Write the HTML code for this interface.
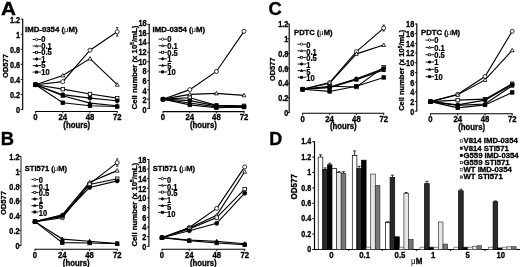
<!DOCTYPE html>
<html><head><meta charset="utf-8"><title>Figure</title>
<style>
html,body{margin:0;padding:0;background:#fff;}
body{width:520px;height:267px;overflow:hidden;}
svg{display:block;}
text{font-family:"Liberation Sans", Arial, Helvetica, sans-serif;font-weight:bold;fill:#000;stroke:#000;stroke-width:0.32px;}
.t{font-size:8.3px;}
.tl{font-size:8.6px;stroke-width:0.25px;}
.tx{font-size:8.6px;}
.th{font-size:8.2px;}
.ty{font-size:8.3px;}
.tt{font-size:7.8px;}
.mu{font-weight:normal;stroke:none;}
.big{font-size:18.5px;stroke-width:0.35px;}
</style></head>
<body>
<svg width="520" height="267" viewBox="0 0 520 267">
<defs><filter id="soft" x="0" y="0" width="520" height="267" filterUnits="userSpaceOnUse"><feGaussianBlur stdDeviation="0.32"/></filter></defs>
<rect width="520" height="267" fill="#fff"/>
<g filter="url(#soft)">
<path d="M22.7 18.8 V109.9" fill="none" stroke="#000" stroke-width="1.15"/>
<line x1="20.7" x2="22.7" y1="109.5" y2="109.5" stroke="#000" stroke-width="0.9"/>
<text transform="translate(20.1,112.9) scale(0.88,1)" class="ty" text-anchor="end">0</text>
<line x1="20.7" x2="22.7" y1="94.45" y2="94.45" stroke="#000" stroke-width="0.9"/>
<text transform="translate(20.1,97.85) scale(0.88,1)" class="ty" text-anchor="end">0.2</text>
<line x1="20.7" x2="22.7" y1="79.4" y2="79.4" stroke="#000" stroke-width="0.9"/>
<text transform="translate(20.1,82.8) scale(0.88,1)" class="ty" text-anchor="end">0.4</text>
<line x1="20.7" x2="22.7" y1="64.35" y2="64.35" stroke="#000" stroke-width="0.9"/>
<text transform="translate(20.1,67.75) scale(0.88,1)" class="ty" text-anchor="end">0.6</text>
<line x1="20.7" x2="22.7" y1="49.3" y2="49.3" stroke="#000" stroke-width="0.9"/>
<text transform="translate(20.1,52.7) scale(0.88,1)" class="ty" text-anchor="end">0.8</text>
<line x1="20.7" x2="22.7" y1="34.25" y2="34.25" stroke="#000" stroke-width="0.9"/>
<text transform="translate(20.1,37.65) scale(0.88,1)" class="ty" text-anchor="end">1</text>
<line x1="20.7" x2="22.7" y1="19.2" y2="19.2" stroke="#000" stroke-width="0.9"/>
<text transform="translate(20.1,22.6) scale(0.88,1)" class="ty" text-anchor="end">1.2</text>
<path d="M35.1 111.5 H117.7" fill="none" stroke="#000" stroke-width="1.1"/>
<line x1="35.5" x2="35.5" y1="111.5" y2="113.3" stroke="#000" stroke-width="0.9"/>
<text transform="translate(35.5,120.2) scale(0.9,1)" class="tx" text-anchor="middle">0</text>
<line x1="62.8" x2="62.8" y1="111.5" y2="113.3" stroke="#000" stroke-width="0.9"/>
<text transform="translate(62.8,120.2) scale(0.9,1)" class="tx" text-anchor="middle">24</text>
<line x1="90" x2="90" y1="111.5" y2="113.3" stroke="#000" stroke-width="0.9"/>
<text transform="translate(90,120.2) scale(0.9,1)" class="tx" text-anchor="middle">48</text>
<line x1="117.2" x2="117.2" y1="111.5" y2="113.3" stroke="#000" stroke-width="0.9"/>
<text transform="translate(117.2,120.2) scale(0.9,1)" class="tx" text-anchor="middle">72</text>
<text transform="translate(76.7,127.6) scale(0.95,1)" class="th" text-anchor="middle">(hours)</text>
<text transform="translate(7.6,66) rotate(-90) scale(0.97,1)" class="t" text-anchor="middle" style="font-size:7.75px">OD577</text>
<polyline points="35.5,84.7 62.8,81.63 90,50.2 117.2,31.8" fill="none" stroke="#000" stroke-width="1.15"/>
<polyline points="35.5,84.7 62.8,75.5 90,58.63 117.2,84.7" fill="none" stroke="#000" stroke-width="1.15"/>
<polyline points="35.5,84.7 62.8,89.15 90,94.05 117.2,98.12" fill="none" stroke="#000" stroke-width="1.15"/>
<polyline points="35.5,84.7 62.8,94.67 90,98.12 117.2,100.8" fill="none" stroke="#000" stroke-width="1.15"/>
<polyline points="35.5,84.7 62.8,95.82 90,103.1 117.2,105.78" fill="none" stroke="#000" stroke-width="1.15"/>
<polyline points="35.5,84.7 62.8,102.72 90,105.78 117.2,106.55" fill="none" stroke="#000" stroke-width="1.15"/>
<path d="M117.2 36.02 V27.58 M116 27.58 h2.4 M116 36.02 h2.4" stroke="#000" stroke-width="0.8" fill="none"/>
<circle cx="35.5" cy="84.7" r="2" fill="#fff" stroke="#000" stroke-width="0.8"/>
<circle cx="62.8" cy="81.63" r="2" fill="#fff" stroke="#000" stroke-width="0.8"/>
<circle cx="90" cy="50.2" r="2" fill="#fff" stroke="#000" stroke-width="0.8"/>
<circle cx="117.2" cy="31.8" r="2" fill="#fff" stroke="#000" stroke-width="0.8"/>
<polygon points="35.5,82.65 33.55,86.18 37.45,86.18" fill="#fff" stroke="#000" stroke-width="0.8"/>
<polygon points="62.8,73.45 60.85,76.98 64.75,76.98" fill="#fff" stroke="#000" stroke-width="0.8"/>
<polygon points="90,56.58 88.05,60.11 91.95,60.11" fill="#fff" stroke="#000" stroke-width="0.8"/>
<polygon points="117.2,82.65 115.25,86.18 119.15,86.18" fill="#fff" stroke="#000" stroke-width="0.8"/>
<rect x="33.75" y="82.95" width="3.5" height="3.5" fill="#fff" stroke="#000" stroke-width="0.8"/>
<rect x="61.05" y="87.4" width="3.5" height="3.5" fill="#fff" stroke="#000" stroke-width="0.8"/>
<rect x="88.25" y="92.3" width="3.5" height="3.5" fill="#fff" stroke="#000" stroke-width="0.8"/>
<rect x="115.45" y="96.37" width="3.5" height="3.5" fill="#fff" stroke="#000" stroke-width="0.8"/>
<circle cx="35.5" cy="84.7" r="2" fill="#000" stroke="#000" stroke-width="0.8"/>
<circle cx="62.8" cy="94.67" r="2" fill="#000" stroke="#000" stroke-width="0.8"/>
<circle cx="90" cy="98.12" r="2" fill="#000" stroke="#000" stroke-width="0.8"/>
<circle cx="117.2" cy="100.8" r="2" fill="#000" stroke="#000" stroke-width="0.8"/>
<polygon points="35.5,82.65 33.55,86.18 37.45,86.18" fill="#000" stroke="#000" stroke-width="0.8"/>
<polygon points="62.8,93.77 60.85,97.29 64.75,97.29" fill="#000" stroke="#000" stroke-width="0.8"/>
<polygon points="90,101.05 88.05,104.58 91.95,104.58" fill="#000" stroke="#000" stroke-width="0.8"/>
<polygon points="117.2,103.73 115.25,107.26 119.15,107.26" fill="#000" stroke="#000" stroke-width="0.8"/>
<rect x="33.75" y="82.95" width="3.5" height="3.5" fill="#000" stroke="#000" stroke-width="0.8"/>
<rect x="61.05" y="100.97" width="3.5" height="3.5" fill="#000" stroke="#000" stroke-width="0.8"/>
<rect x="88.25" y="104.03" width="3.5" height="3.5" fill="#000" stroke="#000" stroke-width="0.8"/>
<rect x="115.45" y="104.8" width="3.5" height="3.5" fill="#000" stroke="#000" stroke-width="0.8"/>
<text transform="translate(25,31.8)" class="tt" style="font-size:7.8px">IMD-0354 (<tspan class="mu">μ</tspan>M)</text>
<line x1="32.6" x2="41.1" y1="39.5" y2="39.5" stroke="#000" stroke-width="0.9"/>
<circle cx="36.65" cy="39.5" r="1.2" fill="#fff" stroke="#000" stroke-width="0.7"/>
<text transform="translate(41.3,42.4) scale(0.88,1)" class="tl">0</text>
<line x1="32.6" x2="41.1" y1="46.02" y2="46.02" stroke="#000" stroke-width="0.9"/>
<polygon points="36.65,44.79 35.48,46.91 37.82,46.91" fill="#fff" stroke="#000" stroke-width="0.7"/>
<text transform="translate(41.3,48.92) scale(0.88,1)" class="tl">0.1</text>
<line x1="32.6" x2="41.1" y1="52.54" y2="52.54" stroke="#000" stroke-width="0.9"/>
<rect x="35.6" y="51.49" width="2.1" height="2.1" fill="#fff" stroke="#000" stroke-width="0.7"/>
<text transform="translate(41.3,55.44) scale(0.88,1)" class="tl">0.5</text>
<line x1="32.6" x2="41.1" y1="59.06" y2="59.06" stroke="#000" stroke-width="0.9"/>
<circle cx="36.65" cy="59.06" r="1.2" fill="#000" stroke="#000" stroke-width="0.7"/>
<text transform="translate(41.3,61.96) scale(0.88,1)" class="tl">1</text>
<line x1="32.6" x2="41.1" y1="65.58" y2="65.58" stroke="#000" stroke-width="0.9"/>
<polygon points="36.65,64.35 35.48,66.47 37.82,66.47" fill="#000" stroke="#000" stroke-width="0.7"/>
<text transform="translate(41.3,68.48) scale(0.88,1)" class="tl">5</text>
<line x1="32.6" x2="41.1" y1="72.1" y2="72.1" stroke="#000" stroke-width="0.9"/>
<rect x="35.6" y="71.05" width="2.1" height="2.1" fill="#000" stroke="#000" stroke-width="0.7"/>
<text transform="translate(41.3,75) scale(0.88,1)" class="tl">10</text>
<path d="M149.2 23.9 V108.9" fill="none" stroke="#000" stroke-width="1.15"/>
<line x1="147.2" x2="149.2" y1="108.5" y2="108.5" stroke="#000" stroke-width="0.9"/>
<text transform="translate(146.6,112.8) scale(0.88,1)" class="ty" text-anchor="end">0</text>
<line x1="147.2" x2="149.2" y1="99.14" y2="99.14" stroke="#000" stroke-width="0.9"/>
<text transform="translate(146.6,103.18) scale(0.88,1)" class="ty" text-anchor="end">2</text>
<line x1="147.2" x2="149.2" y1="89.79" y2="89.79" stroke="#000" stroke-width="0.9"/>
<text transform="translate(146.6,93.56) scale(0.88,1)" class="ty" text-anchor="end">4</text>
<line x1="147.2" x2="149.2" y1="80.43" y2="80.43" stroke="#000" stroke-width="0.9"/>
<text transform="translate(146.6,83.93) scale(0.88,1)" class="ty" text-anchor="end">6</text>
<line x1="147.2" x2="149.2" y1="71.08" y2="71.08" stroke="#000" stroke-width="0.9"/>
<text transform="translate(146.6,74.31) scale(0.88,1)" class="ty" text-anchor="end">8</text>
<line x1="147.2" x2="149.2" y1="61.72" y2="61.72" stroke="#000" stroke-width="0.9"/>
<text transform="translate(146.6,64.69) scale(0.88,1)" class="ty" text-anchor="end">10</text>
<line x1="147.2" x2="149.2" y1="52.37" y2="52.37" stroke="#000" stroke-width="0.9"/>
<text transform="translate(146.6,55.07) scale(0.88,1)" class="ty" text-anchor="end">12</text>
<line x1="147.2" x2="149.2" y1="43.01" y2="43.01" stroke="#000" stroke-width="0.9"/>
<text transform="translate(146.6,45.44) scale(0.88,1)" class="ty" text-anchor="end">14</text>
<line x1="147.2" x2="149.2" y1="33.66" y2="33.66" stroke="#000" stroke-width="0.9"/>
<text transform="translate(146.6,35.82) scale(0.88,1)" class="ty" text-anchor="end">16</text>
<line x1="147.2" x2="149.2" y1="24.3" y2="24.3" stroke="#000" stroke-width="0.9"/>
<text transform="translate(146.6,26.2) scale(0.88,1)" class="ty" text-anchor="end">18</text>
<path d="M162.6 111.6 H244.5" fill="none" stroke="#000" stroke-width="1.1"/>
<line x1="163" x2="163" y1="111.6" y2="113.4" stroke="#000" stroke-width="0.9"/>
<text transform="translate(163,120.3) scale(0.9,1)" class="tx" text-anchor="middle">0</text>
<line x1="189.8" x2="189.8" y1="111.6" y2="113.4" stroke="#000" stroke-width="0.9"/>
<text transform="translate(189.8,120.3) scale(0.9,1)" class="tx" text-anchor="middle">24</text>
<line x1="216.4" x2="216.4" y1="111.6" y2="113.4" stroke="#000" stroke-width="0.9"/>
<text transform="translate(216.4,120.3) scale(0.9,1)" class="tx" text-anchor="middle">48</text>
<line x1="244" x2="244" y1="111.6" y2="113.4" stroke="#000" stroke-width="0.9"/>
<text transform="translate(244,120.3) scale(0.9,1)" class="tx" text-anchor="middle">72</text>
<text transform="translate(203.4,127.7) scale(0.95,1)" class="th" text-anchor="middle">(hours)</text>
<text transform="translate(136.5,67.6) rotate(-90) scale(0.97,1)" class="t" text-anchor="middle" style="font-size:8.0px">Cell number (x 10<tspan dy="-2.5" font-size="5">5</tspan><tspan dy="2.5">/mL)</tspan></text>
<polyline points="163,99.17 189.8,89.61 216.4,71.46 244,31.32" fill="none" stroke="#000" stroke-width="1.15"/>
<polyline points="163,99.17 189.8,94.39 216.4,93.43 244,95.34" fill="none" stroke="#000" stroke-width="1.15"/>
<polyline points="163,99.17 189.8,97.73 216.4,105.38 244,105.86" fill="none" stroke="#000" stroke-width="1.15"/>
<polyline points="163,99.17 189.8,100.6 216.4,105.86 244,106.81" fill="none" stroke="#000" stroke-width="1.15"/>
<polyline points="163,99.17 189.8,102.99 216.4,106.81 244,107.29" fill="none" stroke="#000" stroke-width="1.15"/>
<polyline points="163,99.17 189.8,104.9 216.4,107.77 244,106.81" fill="none" stroke="#000" stroke-width="1.15"/>
<circle cx="163" cy="99.17" r="2" fill="#fff" stroke="#000" stroke-width="0.8"/>
<circle cx="189.8" cy="89.61" r="2" fill="#fff" stroke="#000" stroke-width="0.8"/>
<circle cx="216.4" cy="71.46" r="2" fill="#fff" stroke="#000" stroke-width="0.8"/>
<circle cx="244" cy="31.32" r="2" fill="#fff" stroke="#000" stroke-width="0.8"/>
<polygon points="163,97.12 161.05,100.64 164.95,100.64" fill="#fff" stroke="#000" stroke-width="0.8"/>
<polygon points="189.8,92.34 187.85,95.86 191.75,95.86" fill="#fff" stroke="#000" stroke-width="0.8"/>
<polygon points="216.4,91.38 214.45,94.91 218.35,94.91" fill="#fff" stroke="#000" stroke-width="0.8"/>
<polygon points="244,93.29 242.05,96.82 245.95,96.82" fill="#fff" stroke="#000" stroke-width="0.8"/>
<rect x="161.25" y="97.42" width="3.5" height="3.5" fill="#fff" stroke="#000" stroke-width="0.8"/>
<rect x="188.05" y="95.98" width="3.5" height="3.5" fill="#fff" stroke="#000" stroke-width="0.8"/>
<rect x="214.65" y="103.63" width="3.5" height="3.5" fill="#fff" stroke="#000" stroke-width="0.8"/>
<rect x="242.25" y="104.11" width="3.5" height="3.5" fill="#fff" stroke="#000" stroke-width="0.8"/>
<circle cx="163" cy="99.17" r="2" fill="#000" stroke="#000" stroke-width="0.8"/>
<circle cx="189.8" cy="100.6" r="2" fill="#000" stroke="#000" stroke-width="0.8"/>
<circle cx="216.4" cy="105.86" r="2" fill="#000" stroke="#000" stroke-width="0.8"/>
<circle cx="244" cy="106.81" r="2" fill="#000" stroke="#000" stroke-width="0.8"/>
<polygon points="163,97.12 161.05,100.64 164.95,100.64" fill="#000" stroke="#000" stroke-width="0.8"/>
<polygon points="189.8,100.94 187.85,104.46 191.75,104.46" fill="#000" stroke="#000" stroke-width="0.8"/>
<polygon points="216.4,104.76 214.45,108.29 218.35,108.29" fill="#000" stroke="#000" stroke-width="0.8"/>
<polygon points="244,105.24 242.05,108.76 245.95,108.76" fill="#000" stroke="#000" stroke-width="0.8"/>
<rect x="161.25" y="97.42" width="3.5" height="3.5" fill="#000" stroke="#000" stroke-width="0.8"/>
<rect x="188.05" y="103.15" width="3.5" height="3.5" fill="#000" stroke="#000" stroke-width="0.8"/>
<rect x="214.65" y="106.02" width="3.5" height="3.5" fill="#000" stroke="#000" stroke-width="0.8"/>
<rect x="242.25" y="105.06" width="3.5" height="3.5" fill="#000" stroke="#000" stroke-width="0.8"/>
<text transform="translate(152.6,32)" class="tt" style="font-size:7.8px">IMD-0354 (<tspan class="mu">μ</tspan>M)</text>
<line x1="158.6" x2="167.1" y1="39.2" y2="39.2" stroke="#000" stroke-width="0.9"/>
<circle cx="162.65" cy="39.2" r="1.2" fill="#fff" stroke="#000" stroke-width="0.7"/>
<text transform="translate(167.3,42.4) scale(0.88,1)" class="tl">0</text>
<line x1="158.6" x2="167.1" y1="45.75" y2="45.75" stroke="#000" stroke-width="0.9"/>
<polygon points="162.65,44.52 161.48,46.64 163.82,46.64" fill="#fff" stroke="#000" stroke-width="0.7"/>
<text transform="translate(167.3,48.95) scale(0.88,1)" class="tl">0.1</text>
<line x1="158.6" x2="167.1" y1="52.3" y2="52.3" stroke="#000" stroke-width="0.9"/>
<rect x="161.6" y="51.25" width="2.1" height="2.1" fill="#fff" stroke="#000" stroke-width="0.7"/>
<text transform="translate(167.3,55.5) scale(0.88,1)" class="tl">0.5</text>
<line x1="158.6" x2="167.1" y1="58.85" y2="58.85" stroke="#000" stroke-width="0.9"/>
<circle cx="162.65" cy="58.85" r="1.2" fill="#000" stroke="#000" stroke-width="0.7"/>
<text transform="translate(167.3,62.05) scale(0.88,1)" class="tl">1</text>
<line x1="158.6" x2="167.1" y1="65.4" y2="65.4" stroke="#000" stroke-width="0.9"/>
<polygon points="162.65,64.17 161.48,66.29 163.82,66.29" fill="#000" stroke="#000" stroke-width="0.7"/>
<text transform="translate(167.3,68.6) scale(0.88,1)" class="tl">5</text>
<line x1="158.6" x2="167.1" y1="71.95" y2="71.95" stroke="#000" stroke-width="0.9"/>
<rect x="161.6" y="70.9" width="2.1" height="2.1" fill="#000" stroke="#000" stroke-width="0.7"/>
<text transform="translate(167.3,75.15) scale(0.88,1)" class="tl">10</text>
<path d="M21 156 V245.9" fill="none" stroke="#444" stroke-width="1.15"/>
<line x1="19" x2="21" y1="245.5" y2="245.5" stroke="#000" stroke-width="0.9"/>
<text transform="translate(19.5,248.9) scale(0.88,1)" class="ty" text-anchor="end">0</text>
<line x1="19" x2="21" y1="230.65" y2="230.65" stroke="#000" stroke-width="0.9"/>
<text transform="translate(19.5,234.05) scale(0.88,1)" class="ty" text-anchor="end">0.2</text>
<line x1="19" x2="21" y1="215.8" y2="215.8" stroke="#000" stroke-width="0.9"/>
<text transform="translate(19.5,219.2) scale(0.88,1)" class="ty" text-anchor="end">0.4</text>
<line x1="19" x2="21" y1="200.95" y2="200.95" stroke="#000" stroke-width="0.9"/>
<text transform="translate(19.5,204.35) scale(0.88,1)" class="ty" text-anchor="end">0.6</text>
<line x1="19" x2="21" y1="186.1" y2="186.1" stroke="#000" stroke-width="0.9"/>
<text transform="translate(19.5,189.5) scale(0.88,1)" class="ty" text-anchor="end">0.8</text>
<line x1="19" x2="21" y1="171.25" y2="171.25" stroke="#000" stroke-width="0.9"/>
<text transform="translate(19.5,174.65) scale(0.88,1)" class="ty" text-anchor="end">1</text>
<line x1="19" x2="21" y1="156.4" y2="156.4" stroke="#000" stroke-width="0.9"/>
<text transform="translate(19.5,159.8) scale(0.88,1)" class="ty" text-anchor="end">1.2</text>
<path d="M34.6 249.2 H117.7" fill="none" stroke="#000" stroke-width="1.1"/>
<line x1="35" x2="35" y1="249.2" y2="251" stroke="#000" stroke-width="0.9"/>
<text transform="translate(35,257.9) scale(0.9,1)" class="tx" text-anchor="middle">0</text>
<line x1="62.3" x2="62.3" y1="249.2" y2="251" stroke="#000" stroke-width="0.9"/>
<text transform="translate(62.3,257.9) scale(0.9,1)" class="tx" text-anchor="middle">24</text>
<line x1="89.6" x2="89.6" y1="249.2" y2="251" stroke="#000" stroke-width="0.9"/>
<text transform="translate(89.6,257.9) scale(0.9,1)" class="tx" text-anchor="middle">48</text>
<line x1="117.2" x2="117.2" y1="249.2" y2="251" stroke="#000" stroke-width="0.9"/>
<text transform="translate(117.2,257.9) scale(0.9,1)" class="tx" text-anchor="middle">72</text>
<text transform="translate(76.25,265.6) scale(0.95,1)" class="th" text-anchor="middle">(hours)</text>
<text transform="translate(6.4,203) rotate(-90) scale(0.97,1)" class="t" text-anchor="middle" style="font-size:7.75px">OD577</text>
<polyline points="35,221.61 62.3,217.81 89.6,183.81 117.2,162.6" fill="none" stroke="#000" stroke-width="1.15"/>
<polyline points="35,221.61 62.3,214.88 89.6,182.34 117.2,170.64" fill="none" stroke="#000" stroke-width="1.15"/>
<polyline points="35,221.61 62.3,216.35 89.6,184.54 117.2,178.69" fill="none" stroke="#000" stroke-width="1.15"/>
<polyline points="35,221.61 62.3,215.62 89.6,187.46 117.2,180.88" fill="none" stroke="#000" stroke-width="1.15"/>
<polyline points="35,221.61 62.3,239.09 89.6,241.21 117.2,243.62" fill="none" stroke="#000" stroke-width="1.15"/>
<polyline points="35,221.61 62.3,242.6 89.6,243.04 117.2,243.62" fill="none" stroke="#000" stroke-width="1.15"/>
<path d="M117.2 166.26 V158.94 M116 158.94 h2.4 M116 166.26 h2.4" stroke="#000" stroke-width="0.8" fill="none"/>
<circle cx="35" cy="221.61" r="2" fill="#fff" stroke="#000" stroke-width="0.8"/>
<circle cx="62.3" cy="217.81" r="2" fill="#fff" stroke="#000" stroke-width="0.8"/>
<circle cx="89.6" cy="183.81" r="2" fill="#fff" stroke="#000" stroke-width="0.8"/>
<circle cx="117.2" cy="162.6" r="2" fill="#fff" stroke="#000" stroke-width="0.8"/>
<polygon points="35,219.56 33.05,223.09 36.95,223.09" fill="#fff" stroke="#000" stroke-width="0.8"/>
<polygon points="62.3,212.83 60.35,216.36 64.25,216.36" fill="#fff" stroke="#000" stroke-width="0.8"/>
<polygon points="89.6,180.29 87.65,183.82 91.55,183.82" fill="#fff" stroke="#000" stroke-width="0.8"/>
<polygon points="117.2,168.59 115.25,172.12 119.15,172.12" fill="#fff" stroke="#000" stroke-width="0.8"/>
<rect x="33.25" y="219.86" width="3.5" height="3.5" fill="#fff" stroke="#000" stroke-width="0.8"/>
<rect x="60.55" y="214.6" width="3.5" height="3.5" fill="#fff" stroke="#000" stroke-width="0.8"/>
<rect x="87.85" y="182.79" width="3.5" height="3.5" fill="#fff" stroke="#000" stroke-width="0.8"/>
<rect x="115.45" y="176.94" width="3.5" height="3.5" fill="#fff" stroke="#000" stroke-width="0.8"/>
<circle cx="35" cy="221.61" r="2" fill="#000" stroke="#000" stroke-width="0.8"/>
<circle cx="62.3" cy="215.62" r="2" fill="#000" stroke="#000" stroke-width="0.8"/>
<circle cx="89.6" cy="187.46" r="2" fill="#000" stroke="#000" stroke-width="0.8"/>
<circle cx="117.2" cy="180.88" r="2" fill="#000" stroke="#000" stroke-width="0.8"/>
<polygon points="35,219.56 33.05,223.09 36.95,223.09" fill="#000" stroke="#000" stroke-width="0.8"/>
<polygon points="62.3,237.04 60.35,240.56 64.25,240.56" fill="#000" stroke="#000" stroke-width="0.8"/>
<polygon points="89.6,239.16 87.65,242.69 91.55,242.69" fill="#000" stroke="#000" stroke-width="0.8"/>
<polygon points="117.2,241.57 115.25,245.1 119.15,245.1" fill="#000" stroke="#000" stroke-width="0.8"/>
<rect x="33.25" y="219.86" width="3.5" height="3.5" fill="#000" stroke="#000" stroke-width="0.8"/>
<rect x="60.55" y="240.85" width="3.5" height="3.5" fill="#000" stroke="#000" stroke-width="0.8"/>
<rect x="87.85" y="241.29" width="3.5" height="3.5" fill="#000" stroke="#000" stroke-width="0.8"/>
<rect x="115.45" y="241.87" width="3.5" height="3.5" fill="#000" stroke="#000" stroke-width="0.8"/>
<text transform="translate(24.7,170.5) scale(0.95,1)" class="tt" style="font-size:8px">STI571 (<tspan class="mu">μ</tspan>M)</text>
<line x1="31.5" x2="38.5" y1="179.5" y2="179.5" stroke="#000" stroke-width="0.9"/>
<circle cx="34.8" cy="179.5" r="1.2" fill="#fff" stroke="#000" stroke-width="0.7"/>
<text transform="translate(38.7,183) scale(0.88,1)" class="tl">0</text>
<line x1="31.5" x2="38.5" y1="186" y2="186" stroke="#000" stroke-width="0.9"/>
<polygon points="34.8,184.77 33.63,186.89 35.97,186.89" fill="#fff" stroke="#000" stroke-width="0.7"/>
<text transform="translate(38.7,189.5) scale(0.88,1)" class="tl">0.1</text>
<line x1="31.5" x2="38.5" y1="192.5" y2="192.5" stroke="#000" stroke-width="0.9"/>
<rect x="33.75" y="191.45" width="2.1" height="2.1" fill="#fff" stroke="#000" stroke-width="0.7"/>
<text transform="translate(38.7,196) scale(0.88,1)" class="tl">0.5</text>
<line x1="31.5" x2="38.5" y1="199" y2="199" stroke="#000" stroke-width="0.9"/>
<circle cx="34.8" cy="199" r="1.2" fill="#000" stroke="#000" stroke-width="0.7"/>
<text transform="translate(38.7,202.5) scale(0.88,1)" class="tl">1</text>
<line x1="31.5" x2="38.5" y1="205.5" y2="205.5" stroke="#000" stroke-width="0.9"/>
<polygon points="34.8,204.27 33.63,206.39 35.97,206.39" fill="#000" stroke="#000" stroke-width="0.7"/>
<text transform="translate(38.7,209) scale(0.88,1)" class="tl">5</text>
<line x1="31.5" x2="38.5" y1="212" y2="212" stroke="#000" stroke-width="0.9"/>
<rect x="33.75" y="210.95" width="2.1" height="2.1" fill="#000" stroke="#000" stroke-width="0.7"/>
<text transform="translate(38.7,215.5) scale(0.88,1)" class="tl">10</text>
<path d="M148.9 159 V246.7" fill="none" stroke="#000" stroke-width="1.15"/>
<line x1="146.9" x2="148.9" y1="246.3" y2="246.3" stroke="#000" stroke-width="0.9"/>
<text transform="translate(146.3,249.7) scale(0.88,1)" class="ty" text-anchor="end">0</text>
<line x1="146.9" x2="148.9" y1="236.64" y2="236.64" stroke="#000" stroke-width="0.9"/>
<text transform="translate(146.3,240.04) scale(0.88,1)" class="ty" text-anchor="end">2</text>
<line x1="146.9" x2="148.9" y1="226.99" y2="226.99" stroke="#000" stroke-width="0.9"/>
<text transform="translate(146.3,230.39) scale(0.88,1)" class="ty" text-anchor="end">4</text>
<line x1="146.9" x2="148.9" y1="217.33" y2="217.33" stroke="#000" stroke-width="0.9"/>
<text transform="translate(146.3,220.73) scale(0.88,1)" class="ty" text-anchor="end">6</text>
<line x1="146.9" x2="148.9" y1="207.68" y2="207.68" stroke="#000" stroke-width="0.9"/>
<text transform="translate(146.3,211.08) scale(0.88,1)" class="ty" text-anchor="end">8</text>
<line x1="146.9" x2="148.9" y1="198.02" y2="198.02" stroke="#000" stroke-width="0.9"/>
<text transform="translate(146.3,201.42) scale(0.88,1)" class="ty" text-anchor="end">10</text>
<line x1="146.9" x2="148.9" y1="188.37" y2="188.37" stroke="#000" stroke-width="0.9"/>
<text transform="translate(146.3,191.77) scale(0.88,1)" class="ty" text-anchor="end">12</text>
<line x1="146.9" x2="148.9" y1="178.71" y2="178.71" stroke="#000" stroke-width="0.9"/>
<text transform="translate(146.3,182.11) scale(0.88,1)" class="ty" text-anchor="end">14</text>
<line x1="146.9" x2="148.9" y1="169.06" y2="169.06" stroke="#000" stroke-width="0.9"/>
<text transform="translate(146.3,172.46) scale(0.88,1)" class="ty" text-anchor="end">16</text>
<line x1="146.9" x2="148.9" y1="159.4" y2="159.4" stroke="#000" stroke-width="0.9"/>
<text transform="translate(146.3,162.8) scale(0.88,1)" class="ty" text-anchor="end">18</text>
<path d="M161.6 249.3 H245.2" fill="none" stroke="#000" stroke-width="1.1"/>
<line x1="162" x2="162" y1="249.3" y2="251.1" stroke="#000" stroke-width="0.9"/>
<text transform="translate(162,258) scale(0.9,1)" class="tx" text-anchor="middle">0</text>
<line x1="189.3" x2="189.3" y1="249.3" y2="251.1" stroke="#000" stroke-width="0.9"/>
<text transform="translate(189.3,258) scale(0.9,1)" class="tx" text-anchor="middle">24</text>
<line x1="216.7" x2="216.7" y1="249.3" y2="251.1" stroke="#000" stroke-width="0.9"/>
<text transform="translate(216.7,258) scale(0.9,1)" class="tx" text-anchor="middle">48</text>
<line x1="244.7" x2="244.7" y1="249.3" y2="251.1" stroke="#000" stroke-width="0.9"/>
<text transform="translate(244.7,258) scale(0.9,1)" class="tx" text-anchor="middle">72</text>
<text transform="translate(203.3,265.7) scale(0.95,1)" class="th" text-anchor="middle">(hours)</text>
<text transform="translate(136.5,204.7) rotate(-90) scale(0.97,1)" class="t" text-anchor="middle" style="font-size:8.0px">Cell number (x 10<tspan dy="-2.5" font-size="5">5</tspan><tspan dy="2.5">/mL)</tspan></text>
<polyline points="162,237.69 189.3,227.43 216.7,208.39 244.7,166.94" fill="none" stroke="#000" stroke-width="1.15"/>
<polyline points="162,237.69 189.3,227.91 216.7,215.38 244.7,171.76" fill="none" stroke="#000" stroke-width="1.15"/>
<polyline points="162,237.69 189.3,228.87 216.7,217.55 244.7,189.11" fill="none" stroke="#000" stroke-width="1.15"/>
<polyline points="162,237.69 189.3,230.8 216.7,223.33 244.7,193.21" fill="none" stroke="#000" stroke-width="1.15"/>
<polyline points="162,237.69 189.3,240.01 216.7,241.4 244.7,243.72" fill="none" stroke="#000" stroke-width="1.15"/>
<polyline points="162,237.69 189.3,240.68 216.7,242.99 244.7,244.68" fill="none" stroke="#000" stroke-width="1.15"/>
<circle cx="162" cy="237.69" r="2" fill="#fff" stroke="#000" stroke-width="0.8"/>
<circle cx="189.3" cy="227.43" r="2" fill="#fff" stroke="#000" stroke-width="0.8"/>
<circle cx="216.7" cy="208.39" r="2" fill="#fff" stroke="#000" stroke-width="0.8"/>
<circle cx="244.7" cy="166.94" r="2" fill="#fff" stroke="#000" stroke-width="0.8"/>
<polygon points="162,235.64 160.05,239.17 163.95,239.17" fill="#fff" stroke="#000" stroke-width="0.8"/>
<polygon points="189.3,225.86 187.35,229.39 191.25,229.39" fill="#fff" stroke="#000" stroke-width="0.8"/>
<polygon points="216.7,213.33 214.75,216.85 218.65,216.85" fill="#fff" stroke="#000" stroke-width="0.8"/>
<polygon points="244.7,169.71 242.75,173.24 246.65,173.24" fill="#fff" stroke="#000" stroke-width="0.8"/>
<rect x="160.25" y="235.94" width="3.5" height="3.5" fill="#fff" stroke="#000" stroke-width="0.8"/>
<rect x="187.55" y="227.12" width="3.5" height="3.5" fill="#fff" stroke="#000" stroke-width="0.8"/>
<rect x="214.95" y="215.8" width="3.5" height="3.5" fill="#fff" stroke="#000" stroke-width="0.8"/>
<rect x="242.95" y="187.36" width="3.5" height="3.5" fill="#fff" stroke="#000" stroke-width="0.8"/>
<circle cx="162" cy="237.69" r="2" fill="#000" stroke="#000" stroke-width="0.8"/>
<circle cx="189.3" cy="230.8" r="2" fill="#000" stroke="#000" stroke-width="0.8"/>
<circle cx="216.7" cy="223.33" r="2" fill="#000" stroke="#000" stroke-width="0.8"/>
<circle cx="244.7" cy="193.21" r="2" fill="#000" stroke="#000" stroke-width="0.8"/>
<polygon points="162,235.64 160.05,239.17 163.95,239.17" fill="#000" stroke="#000" stroke-width="0.8"/>
<polygon points="189.3,237.96 187.35,241.48 191.25,241.48" fill="#000" stroke="#000" stroke-width="0.8"/>
<polygon points="216.7,239.35 214.75,242.88 218.65,242.88" fill="#000" stroke="#000" stroke-width="0.8"/>
<polygon points="244.7,241.67 242.75,245.19 246.65,245.19" fill="#000" stroke="#000" stroke-width="0.8"/>
<rect x="160.25" y="235.94" width="3.5" height="3.5" fill="#000" stroke="#000" stroke-width="0.8"/>
<rect x="187.55" y="238.93" width="3.5" height="3.5" fill="#000" stroke="#000" stroke-width="0.8"/>
<rect x="214.95" y="241.24" width="3.5" height="3.5" fill="#000" stroke="#000" stroke-width="0.8"/>
<rect x="242.95" y="242.93" width="3.5" height="3.5" fill="#000" stroke="#000" stroke-width="0.8"/>
<text transform="translate(152.7,170.5) scale(0.95,1)" class="tt" style="font-size:8px">STI571 (<tspan class="mu">μ</tspan>M)</text>
<line x1="158.3" x2="166.8" y1="178.6" y2="178.6" stroke="#000" stroke-width="0.9"/>
<circle cx="162.35" cy="178.6" r="1.2" fill="#fff" stroke="#000" stroke-width="0.7"/>
<text transform="translate(167,182.9) scale(0.88,1)" class="tl">0</text>
<line x1="158.3" x2="166.8" y1="185.35" y2="185.35" stroke="#000" stroke-width="0.9"/>
<polygon points="162.35,184.12 161.18,186.24 163.52,186.24" fill="#fff" stroke="#000" stroke-width="0.7"/>
<text transform="translate(167,189.65) scale(0.88,1)" class="tl">0.1</text>
<line x1="158.3" x2="166.8" y1="192.1" y2="192.1" stroke="#000" stroke-width="0.9"/>
<rect x="161.3" y="191.05" width="2.1" height="2.1" fill="#fff" stroke="#000" stroke-width="0.7"/>
<text transform="translate(167,196.4) scale(0.88,1)" class="tl">0.5</text>
<line x1="158.3" x2="166.8" y1="198.85" y2="198.85" stroke="#000" stroke-width="0.9"/>
<circle cx="162.35" cy="198.85" r="1.2" fill="#000" stroke="#000" stroke-width="0.7"/>
<text transform="translate(167,203.15) scale(0.88,1)" class="tl">1</text>
<line x1="158.3" x2="166.8" y1="205.6" y2="205.6" stroke="#000" stroke-width="0.9"/>
<polygon points="162.35,204.37 161.18,206.49 163.52,206.49" fill="#000" stroke="#000" stroke-width="0.7"/>
<text transform="translate(167,209.9) scale(0.88,1)" class="tl">5</text>
<line x1="158.3" x2="166.8" y1="212.35" y2="212.35" stroke="#000" stroke-width="0.9"/>
<rect x="161.3" y="211.3" width="2.1" height="2.1" fill="#000" stroke="#000" stroke-width="0.7"/>
<text transform="translate(167,216.65) scale(0.88,1)" class="tl">10</text>
<path d="M289.2 23.6 V113" fill="none" stroke="#000" stroke-width="1.15"/>
<line x1="287.2" x2="289.2" y1="112.6" y2="112.6" stroke="#000" stroke-width="0.9"/>
<text transform="translate(288.4,116) scale(0.88,1)" class="ty" text-anchor="end">0</text>
<line x1="287.2" x2="289.2" y1="97.83" y2="97.83" stroke="#000" stroke-width="0.9"/>
<text transform="translate(288.4,101.23) scale(0.88,1)" class="ty" text-anchor="end">0.2</text>
<line x1="287.2" x2="289.2" y1="83.07" y2="83.07" stroke="#000" stroke-width="0.9"/>
<text transform="translate(288.4,86.47) scale(0.88,1)" class="ty" text-anchor="end">0.4</text>
<line x1="287.2" x2="289.2" y1="68.3" y2="68.3" stroke="#000" stroke-width="0.9"/>
<text transform="translate(288.4,71.7) scale(0.88,1)" class="ty" text-anchor="end">0.6</text>
<line x1="287.2" x2="289.2" y1="53.53" y2="53.53" stroke="#000" stroke-width="0.9"/>
<text transform="translate(288.4,56.93) scale(0.88,1)" class="ty" text-anchor="end">0.8</text>
<line x1="287.2" x2="289.2" y1="38.77" y2="38.77" stroke="#000" stroke-width="0.9"/>
<text transform="translate(288.4,42.17) scale(0.88,1)" class="ty" text-anchor="end">1</text>
<line x1="287.2" x2="289.2" y1="24" y2="24" stroke="#000" stroke-width="0.9"/>
<text transform="translate(288.4,27.4) scale(0.88,1)" class="ty" text-anchor="end">1.2</text>
<path d="M302.2 113.3 H384.2" fill="none" stroke="#000" stroke-width="1.1"/>
<line x1="302.6" x2="302.6" y1="113.3" y2="115.1" stroke="#000" stroke-width="0.9"/>
<text transform="translate(302.6,122) scale(0.9,1)" class="tx" text-anchor="middle">0</text>
<line x1="329.6" x2="329.6" y1="113.3" y2="115.1" stroke="#000" stroke-width="0.9"/>
<text transform="translate(329.6,122) scale(0.9,1)" class="tx" text-anchor="middle">24</text>
<line x1="356.4" x2="356.4" y1="113.3" y2="115.1" stroke="#000" stroke-width="0.9"/>
<text transform="translate(356.4,122) scale(0.9,1)" class="tx" text-anchor="middle">48</text>
<line x1="383.7" x2="383.7" y1="113.3" y2="115.1" stroke="#000" stroke-width="0.9"/>
<text transform="translate(383.7,122) scale(0.9,1)" class="tx" text-anchor="middle">72</text>
<text transform="translate(343.3,129.4) scale(0.95,1)" class="th" text-anchor="middle">(hours)</text>
<text transform="translate(274.6,69.4) rotate(-90) scale(0.97,1)" class="t" text-anchor="middle" style="font-size:7.6px">OD577</text>
<polyline points="302.6,89.23 329.6,82.6 356.4,51.66 383.7,28.08" fill="none" stroke="#000" stroke-width="1.15"/>
<polyline points="302.6,89.23 329.6,83.33 356.4,53.87 383.7,45.03" fill="none" stroke="#000" stroke-width="1.15"/>
<polyline points="302.6,89.23 329.6,86.28 356.4,87.02 383.7,67.13" fill="none" stroke="#000" stroke-width="1.15"/>
<polyline points="302.6,89.23 329.6,87.02 356.4,78.91 383.7,68.6" fill="none" stroke="#000" stroke-width="1.15"/>
<polyline points="302.6,89.23 329.6,87.75 356.4,79.65 383.7,70.07" fill="none" stroke="#000" stroke-width="1.15"/>
<polyline points="302.6,89.23 329.6,91.44 356.4,86.28 383.7,77.44" fill="none" stroke="#000" stroke-width="1.15"/>
<path d="M383.7 31.03 V25.14 M382.5 25.14 h2.4 M382.5 31.03 h2.4" stroke="#000" stroke-width="0.8" fill="none"/>
<circle cx="302.6" cy="89.23" r="2" fill="#fff" stroke="#000" stroke-width="0.8"/>
<circle cx="329.6" cy="82.6" r="2" fill="#fff" stroke="#000" stroke-width="0.8"/>
<circle cx="356.4" cy="51.66" r="2" fill="#fff" stroke="#000" stroke-width="0.8"/>
<circle cx="383.7" cy="28.08" r="2" fill="#fff" stroke="#000" stroke-width="0.8"/>
<polygon points="302.6,87.18 300.65,90.7 304.55,90.7" fill="#fff" stroke="#000" stroke-width="0.8"/>
<polygon points="329.6,81.28 327.65,84.81 331.55,84.81" fill="#fff" stroke="#000" stroke-width="0.8"/>
<polygon points="356.4,51.82 354.45,55.34 358.35,55.34" fill="#fff" stroke="#000" stroke-width="0.8"/>
<polygon points="383.7,42.98 381.75,46.5 385.65,46.5" fill="#fff" stroke="#000" stroke-width="0.8"/>
<rect x="300.85" y="87.48" width="3.5" height="3.5" fill="#fff" stroke="#000" stroke-width="0.8"/>
<rect x="327.85" y="84.53" width="3.5" height="3.5" fill="#fff" stroke="#000" stroke-width="0.8"/>
<rect x="354.65" y="85.27" width="3.5" height="3.5" fill="#fff" stroke="#000" stroke-width="0.8"/>
<rect x="381.95" y="65.38" width="3.5" height="3.5" fill="#fff" stroke="#000" stroke-width="0.8"/>
<circle cx="302.6" cy="89.23" r="2" fill="#000" stroke="#000" stroke-width="0.8"/>
<circle cx="329.6" cy="87.02" r="2" fill="#000" stroke="#000" stroke-width="0.8"/>
<circle cx="356.4" cy="78.91" r="2" fill="#000" stroke="#000" stroke-width="0.8"/>
<circle cx="383.7" cy="68.6" r="2" fill="#000" stroke="#000" stroke-width="0.8"/>
<polygon points="302.6,87.18 300.65,90.7 304.55,90.7" fill="#000" stroke="#000" stroke-width="0.8"/>
<polygon points="329.6,85.7 327.65,89.23 331.55,89.23" fill="#000" stroke="#000" stroke-width="0.8"/>
<polygon points="356.4,77.6 354.45,81.13 358.35,81.13" fill="#000" stroke="#000" stroke-width="0.8"/>
<polygon points="383.7,68.02 381.75,71.55 385.65,71.55" fill="#000" stroke="#000" stroke-width="0.8"/>
<rect x="300.85" y="87.48" width="3.5" height="3.5" fill="#000" stroke="#000" stroke-width="0.8"/>
<rect x="327.85" y="89.69" width="3.5" height="3.5" fill="#000" stroke="#000" stroke-width="0.8"/>
<rect x="354.65" y="84.53" width="3.5" height="3.5" fill="#000" stroke="#000" stroke-width="0.8"/>
<rect x="381.95" y="75.69" width="3.5" height="3.5" fill="#000" stroke="#000" stroke-width="0.8"/>
<text transform="translate(294.1,34.5) scale(0.97,1)" class="tt" style="font-size:7.8px">PDTC (<tspan class="mu">μ</tspan>M)</text>
<line x1="297.5" x2="306" y1="44.2" y2="44.2" stroke="#000" stroke-width="0.9"/>
<circle cx="301.55" cy="44.2" r="1.2" fill="#fff" stroke="#000" stroke-width="0.7"/>
<text transform="translate(306.2,48.2) scale(0.88,1)" class="tl">0</text>
<line x1="297.5" x2="306" y1="50.82" y2="50.82" stroke="#000" stroke-width="0.9"/>
<polygon points="301.55,49.59 300.38,51.71 302.72,51.71" fill="#fff" stroke="#000" stroke-width="0.7"/>
<text transform="translate(306.2,54.82) scale(0.88,1)" class="tl">0.1</text>
<line x1="297.5" x2="306" y1="57.44" y2="57.44" stroke="#000" stroke-width="0.9"/>
<rect x="300.5" y="56.39" width="2.1" height="2.1" fill="#fff" stroke="#000" stroke-width="0.7"/>
<text transform="translate(306.2,61.44) scale(0.88,1)" class="tl">0.5</text>
<line x1="297.5" x2="306" y1="64.06" y2="64.06" stroke="#000" stroke-width="0.9"/>
<circle cx="301.55" cy="64.06" r="1.2" fill="#000" stroke="#000" stroke-width="0.7"/>
<text transform="translate(306.2,68.06) scale(0.88,1)" class="tl">1</text>
<line x1="297.5" x2="306" y1="70.68" y2="70.68" stroke="#000" stroke-width="0.9"/>
<polygon points="301.55,69.45 300.38,71.57 302.72,71.57" fill="#000" stroke="#000" stroke-width="0.7"/>
<text transform="translate(306.2,74.68) scale(0.88,1)" class="tl">5</text>
<line x1="297.5" x2="306" y1="77.3" y2="77.3" stroke="#000" stroke-width="0.9"/>
<rect x="300.5" y="76.25" width="2.1" height="2.1" fill="#000" stroke="#000" stroke-width="0.7"/>
<text transform="translate(306.2,81.3) scale(0.88,1)" class="tl">10</text>
<path d="M416.8 23.6 V111.6" fill="none" stroke="#000" stroke-width="1.15"/>
<line x1="414.8" x2="416.8" y1="111.2" y2="111.2" stroke="#000" stroke-width="0.9"/>
<text transform="translate(414.2,114.6) scale(0.88,1)" class="ty" text-anchor="end">0</text>
<line x1="414.8" x2="416.8" y1="101.51" y2="101.51" stroke="#000" stroke-width="0.9"/>
<text transform="translate(414.2,104.91) scale(0.88,1)" class="ty" text-anchor="end">2</text>
<line x1="414.8" x2="416.8" y1="91.82" y2="91.82" stroke="#000" stroke-width="0.9"/>
<text transform="translate(414.2,95.22) scale(0.88,1)" class="ty" text-anchor="end">4</text>
<line x1="414.8" x2="416.8" y1="82.13" y2="82.13" stroke="#000" stroke-width="0.9"/>
<text transform="translate(414.2,85.53) scale(0.88,1)" class="ty" text-anchor="end">6</text>
<line x1="414.8" x2="416.8" y1="72.44" y2="72.44" stroke="#000" stroke-width="0.9"/>
<text transform="translate(414.2,75.84) scale(0.88,1)" class="ty" text-anchor="end">8</text>
<line x1="414.8" x2="416.8" y1="62.76" y2="62.76" stroke="#000" stroke-width="0.9"/>
<text transform="translate(414.2,66.16) scale(0.88,1)" class="ty" text-anchor="end">10</text>
<line x1="414.8" x2="416.8" y1="53.07" y2="53.07" stroke="#000" stroke-width="0.9"/>
<text transform="translate(414.2,56.47) scale(0.88,1)" class="ty" text-anchor="end">12</text>
<line x1="414.8" x2="416.8" y1="43.38" y2="43.38" stroke="#000" stroke-width="0.9"/>
<text transform="translate(414.2,46.78) scale(0.88,1)" class="ty" text-anchor="end">14</text>
<line x1="414.8" x2="416.8" y1="33.69" y2="33.69" stroke="#000" stroke-width="0.9"/>
<text transform="translate(414.2,37.09) scale(0.88,1)" class="ty" text-anchor="end">16</text>
<line x1="414.8" x2="416.8" y1="24" y2="24" stroke="#000" stroke-width="0.9"/>
<text transform="translate(414.2,27.4) scale(0.88,1)" class="ty" text-anchor="end">18</text>
<path d="M430.1 113.7 H512.7" fill="none" stroke="#000" stroke-width="1.1"/>
<line x1="430.5" x2="430.5" y1="113.7" y2="115.5" stroke="#000" stroke-width="0.9"/>
<text transform="translate(430.5,122.4) scale(0.9,1)" class="tx" text-anchor="middle">0</text>
<line x1="457.7" x2="457.7" y1="113.7" y2="115.5" stroke="#000" stroke-width="0.9"/>
<text transform="translate(457.7,122.4) scale(0.9,1)" class="tx" text-anchor="middle">24</text>
<line x1="485" x2="485" y1="113.7" y2="115.5" stroke="#000" stroke-width="0.9"/>
<text transform="translate(485,122.4) scale(0.9,1)" class="tx" text-anchor="middle">48</text>
<line x1="512.2" x2="512.2" y1="113.7" y2="115.5" stroke="#000" stroke-width="0.9"/>
<text transform="translate(512.2,122.4) scale(0.9,1)" class="tx" text-anchor="middle">72</text>
<text transform="translate(471.65,129.8) scale(0.95,1)" class="th" text-anchor="middle">(hours)</text>
<text transform="translate(404.3,70.3) rotate(-90) scale(0.97,1)" class="t" text-anchor="middle" style="font-size:7.75px">Cell number (x 10<tspan dy="-2.5" font-size="5">5</tspan><tspan dy="2.5">/mL)</tspan></text>
<polyline points="430.5,101.57 457.7,94.34 485,76.52 512.2,31.24" fill="none" stroke="#000" stroke-width="1.15"/>
<polyline points="430.5,101.57 457.7,94.82 485,79.89 512.2,50.27" fill="none" stroke="#000" stroke-width="1.15"/>
<polyline points="430.5,101.57 457.7,100.12 485,99.16 512.2,83.75" fill="none" stroke="#000" stroke-width="1.15"/>
<polyline points="430.5,101.57 457.7,104.94 485,100.12 512.2,84.71" fill="none" stroke="#000" stroke-width="1.15"/>
<polyline points="430.5,101.57 457.7,105.42 485,103.98 512.2,85.67" fill="none" stroke="#000" stroke-width="1.15"/>
<polyline points="430.5,101.57 457.7,107.83 485,104.94 512.2,92.42" fill="none" stroke="#000" stroke-width="1.15"/>
<circle cx="430.5" cy="101.57" r="2" fill="#fff" stroke="#000" stroke-width="0.8"/>
<circle cx="457.7" cy="94.34" r="2" fill="#fff" stroke="#000" stroke-width="0.8"/>
<circle cx="485" cy="76.52" r="2" fill="#fff" stroke="#000" stroke-width="0.8"/>
<circle cx="512.2" cy="31.24" r="2" fill="#fff" stroke="#000" stroke-width="0.8"/>
<polygon points="430.5,99.52 428.55,103.04 432.45,103.04" fill="#fff" stroke="#000" stroke-width="0.8"/>
<polygon points="457.7,92.77 455.75,96.3 459.65,96.3" fill="#fff" stroke="#000" stroke-width="0.8"/>
<polygon points="485,77.84 483.05,81.37 486.95,81.37" fill="#fff" stroke="#000" stroke-width="0.8"/>
<polygon points="512.2,48.22 510.25,51.75 514.15,51.75" fill="#fff" stroke="#000" stroke-width="0.8"/>
<rect x="428.75" y="99.82" width="3.5" height="3.5" fill="#fff" stroke="#000" stroke-width="0.8"/>
<rect x="455.95" y="98.37" width="3.5" height="3.5" fill="#fff" stroke="#000" stroke-width="0.8"/>
<rect x="483.25" y="97.41" width="3.5" height="3.5" fill="#fff" stroke="#000" stroke-width="0.8"/>
<rect x="510.45" y="82" width="3.5" height="3.5" fill="#fff" stroke="#000" stroke-width="0.8"/>
<circle cx="430.5" cy="101.57" r="2" fill="#000" stroke="#000" stroke-width="0.8"/>
<circle cx="457.7" cy="104.94" r="2" fill="#000" stroke="#000" stroke-width="0.8"/>
<circle cx="485" cy="100.12" r="2" fill="#000" stroke="#000" stroke-width="0.8"/>
<circle cx="512.2" cy="84.71" r="2" fill="#000" stroke="#000" stroke-width="0.8"/>
<polygon points="430.5,99.52 428.55,103.04 432.45,103.04" fill="#000" stroke="#000" stroke-width="0.8"/>
<polygon points="457.7,103.37 455.75,106.9 459.65,106.9" fill="#000" stroke="#000" stroke-width="0.8"/>
<polygon points="485,101.93 483.05,105.45 486.95,105.45" fill="#000" stroke="#000" stroke-width="0.8"/>
<polygon points="512.2,83.62 510.25,87.15 514.15,87.15" fill="#000" stroke="#000" stroke-width="0.8"/>
<rect x="428.75" y="99.82" width="3.5" height="3.5" fill="#000" stroke="#000" stroke-width="0.8"/>
<rect x="455.95" y="106.08" width="3.5" height="3.5" fill="#000" stroke="#000" stroke-width="0.8"/>
<rect x="483.25" y="103.19" width="3.5" height="3.5" fill="#000" stroke="#000" stroke-width="0.8"/>
<rect x="510.45" y="90.67" width="3.5" height="3.5" fill="#000" stroke="#000" stroke-width="0.8"/>
<text transform="translate(421,34.5) scale(0.99,1)" class="tt" style="font-size:7.8px">PDTC (<tspan class="mu">μ</tspan>M)</text>
<line x1="425.5" x2="434" y1="40.1" y2="40.1" stroke="#000" stroke-width="0.9"/>
<circle cx="429.55" cy="40.1" r="1.2" fill="#fff" stroke="#000" stroke-width="0.7"/>
<text transform="translate(434.2,43.3) scale(0.88,1)" class="tl">0</text>
<line x1="425.5" x2="434" y1="47.42" y2="47.42" stroke="#000" stroke-width="0.9"/>
<polygon points="429.55,46.19 428.38,48.31 430.72,48.31" fill="#fff" stroke="#000" stroke-width="0.7"/>
<text transform="translate(434.2,50.62) scale(0.88,1)" class="tl">0.1</text>
<line x1="425.5" x2="434" y1="54.74" y2="54.74" stroke="#000" stroke-width="0.9"/>
<rect x="428.5" y="53.69" width="2.1" height="2.1" fill="#fff" stroke="#000" stroke-width="0.7"/>
<text transform="translate(434.2,57.94) scale(0.88,1)" class="tl">0.5</text>
<line x1="425.5" x2="434" y1="62.06" y2="62.06" stroke="#000" stroke-width="0.9"/>
<circle cx="429.55" cy="62.06" r="1.2" fill="#000" stroke="#000" stroke-width="0.7"/>
<text transform="translate(434.2,65.26) scale(0.88,1)" class="tl">1</text>
<line x1="425.5" x2="434" y1="69.38" y2="69.38" stroke="#000" stroke-width="0.9"/>
<polygon points="429.55,68.15 428.38,70.27 430.72,70.27" fill="#000" stroke="#000" stroke-width="0.7"/>
<text transform="translate(434.2,72.58) scale(0.88,1)" class="tl">5</text>
<line x1="425.5" x2="434" y1="76.7" y2="76.7" stroke="#000" stroke-width="0.9"/>
<rect x="428.5" y="75.65" width="2.1" height="2.1" fill="#000" stroke="#000" stroke-width="0.7"/>
<text transform="translate(434.2,79.9) scale(0.88,1)" class="tl">10</text>
<text transform="translate(0.9,15.3) scale(1.12,1)" class="big">A</text>
<text transform="translate(0.8,144.9) scale(0.99,1)" class="big">B</text>
<text transform="translate(268.5,14.7) scale(0.99,1)" class="big">C</text>
<text transform="translate(269.2,145.3) scale(0.97,1)" class="big">D</text>
<path d="M314.5 141.2 V249.5 H520" fill="none" stroke="#000" stroke-width="1.2"/>
<line x1="312.3" x2="314.5" y1="249.5" y2="249.5" stroke="#000"/>
<text transform="translate(311.3,252.1) scale(0.86,1)" class="ty" text-anchor="end">0</text>
<line x1="312.3" x2="314.5" y1="234.1" y2="234.1" stroke="#000"/>
<text transform="translate(311.3,236.7) scale(0.86,1)" class="ty" text-anchor="end">0.2</text>
<line x1="312.3" x2="314.5" y1="218.7" y2="218.7" stroke="#000"/>
<text transform="translate(311.3,221.3) scale(0.86,1)" class="ty" text-anchor="end">0.4</text>
<line x1="312.3" x2="314.5" y1="203.3" y2="203.3" stroke="#000"/>
<text transform="translate(311.3,205.9) scale(0.86,1)" class="ty" text-anchor="end">0.6</text>
<line x1="312.3" x2="314.5" y1="187.9" y2="187.9" stroke="#000"/>
<text transform="translate(311.3,190.5) scale(0.86,1)" class="ty" text-anchor="end">0.8</text>
<line x1="312.3" x2="314.5" y1="172.5" y2="172.5" stroke="#000"/>
<text transform="translate(311.3,175.1) scale(0.86,1)" class="ty" text-anchor="end">1</text>
<line x1="312.3" x2="314.5" y1="157.1" y2="157.1" stroke="#000"/>
<text transform="translate(311.3,159.7) scale(0.86,1)" class="ty" text-anchor="end">1.2</text>
<line x1="312.3" x2="314.5" y1="141.7" y2="141.7" stroke="#000"/>
<text transform="translate(311.3,144.3) scale(0.86,1)" class="ty" text-anchor="end">1.4</text>
<text transform="translate(296.6,186.8) rotate(-90) scale(0.97,1)" class="t" text-anchor="middle">OD577</text>
<line x1="348.7" x2="348.7" y1="249.5" y2="251.1" stroke="#000" stroke-width="0.9"/>
<line x1="382.3" x2="382.3" y1="249.5" y2="251.1" stroke="#000" stroke-width="0.9"/>
<line x1="416.4" x2="416.4" y1="249.5" y2="251.1" stroke="#000" stroke-width="0.9"/>
<line x1="450.6" x2="450.6" y1="249.5" y2="251.1" stroke="#000" stroke-width="0.9"/>
<line x1="485" x2="485" y1="249.5" y2="251.1" stroke="#000" stroke-width="0.9"/>
<rect x="318.2" y="157.1" width="4.6" height="92.4" fill="#fff" stroke="#000" stroke-width="0.7"/>
<path d="M320.5 157.1 V154.79 M319 154.79 h3" stroke="#000" stroke-width="0.8" fill="none"/>
<rect x="322.8" y="169.42" width="4.6" height="80.08" fill="#2a2a2a" stroke="#000" stroke-width="0.7"/>
<path d="M325.1 169.42 V167.88 M323.6 167.88 h3" stroke="#000" stroke-width="0.8" fill="none"/>
<rect x="327.4" y="164.8" width="4.6" height="84.7" fill="#000" stroke="#000" stroke-width="0.7"/>
<path d="M329.7 164.8 V163.26 M328.2 163.26 h3" stroke="#000" stroke-width="0.8" fill="none"/>
<rect x="332" y="168.65" width="4.6" height="80.85" fill="#fafafa" stroke="#000" stroke-width="0.7"/>
<rect x="336.6" y="172.5" width="4.6" height="77" fill="#e6e6e6" stroke="#333" stroke-width="0.7"/>
<path d="M338.9 172.5 V171.73 M337.4 171.73 h3" stroke="#000" stroke-width="0.8" fill="none"/>
<rect x="341.2" y="173.27" width="4.6" height="76.23" fill="#777" stroke="#333" stroke-width="0.7"/>
<path d="M343.5 173.27 V171.73 M342 171.73 h3" stroke="#000" stroke-width="0.8" fill="none"/>
<text transform="translate(331.5,258.4) scale(0.9,1)" class="tx" text-anchor="middle">0</text>
<rect x="352.3" y="155.56" width="4.6" height="93.94" fill="#fff" stroke="#000" stroke-width="0.7"/>
<path d="M354.6 155.56 V150.94 M353.1 150.94 h3" stroke="#000" stroke-width="0.8" fill="none"/>
<rect x="356.9" y="168.65" width="4.6" height="80.85" fill="#2a2a2a" stroke="#000" stroke-width="0.7"/>
<path d="M359.2 168.65 V166.34 M357.7 166.34 h3" stroke="#000" stroke-width="0.8" fill="none"/>
<rect x="361.5" y="160.18" width="4.6" height="89.32" fill="#000" stroke="#000" stroke-width="0.7"/>
<rect x="366.1" y="247.19" width="4.6" height="2.31" fill="#fafafa" stroke="#555" stroke-width="0.7"/>
<rect x="370.7" y="174.04" width="4.6" height="75.46" fill="#e6e6e6" stroke="#333" stroke-width="0.7"/>
<rect x="375.3" y="185.59" width="4.6" height="63.91" fill="#777" stroke="#333" stroke-width="0.7"/>
<text transform="translate(364.7,258.4) scale(0.9,1)" class="tx" text-anchor="middle">0.1</text>
<rect x="385.5" y="222.55" width="4.6" height="26.95" fill="#fff" stroke="#000" stroke-width="0.7"/>
<path d="M387.8 222.55 V221.78 M386.3 221.78 h3" stroke="#000" stroke-width="0.8" fill="none"/>
<rect x="390.1" y="177.5" width="4.6" height="72" fill="#2a2a2a" stroke="#000" stroke-width="0.7"/>
<path d="M392.4 177.5 V175.19 M390.9 175.19 h3" stroke="#000" stroke-width="0.8" fill="none"/>
<rect x="394.7" y="236.79" width="4.6" height="12.71" fill="#000" stroke="#000" stroke-width="0.7"/>
<rect x="399.3" y="247.19" width="4.6" height="2.31" fill="#fafafa" stroke="#555" stroke-width="0.7"/>
<rect x="403.9" y="193.29" width="4.6" height="56.21" fill="#e6e6e6" stroke="#333" stroke-width="0.7"/>
<path d="M406.2 193.29 V192.52 M404.7 192.52 h3" stroke="#000" stroke-width="0.8" fill="none"/>
<rect x="408.5" y="239.49" width="4.6" height="10.01" fill="#777" stroke="#333" stroke-width="0.7"/>
<text transform="translate(400,258.4) scale(0.9,1)" class="tx" text-anchor="middle">0.5</text>
<rect x="420" y="247.19" width="4.6" height="2.31" fill="#fff" stroke="#555" stroke-width="0.7"/>
<rect x="424.6" y="183.67" width="4.6" height="65.83" fill="#2a2a2a" stroke="#000" stroke-width="0.7"/>
<path d="M426.9 183.67 V181.36 M425.4 181.36 h3" stroke="#000" stroke-width="0.8" fill="none"/>
<rect x="429.2" y="247.19" width="4.6" height="2.31" fill="#000" stroke="#000" stroke-width="0.7"/>
<rect x="433.8" y="247.19" width="4.6" height="2.31" fill="#fafafa" stroke="#555" stroke-width="0.7"/>
<rect x="438.4" y="222.01" width="4.6" height="27.49" fill="#e6e6e6" stroke="#333" stroke-width="0.7"/>
<rect x="443" y="244.11" width="4.6" height="5.39" fill="#777" stroke="#333" stroke-width="0.7"/>
<text transform="translate(433.2,258.4) scale(0.9,1)" class="tx" text-anchor="middle">1</text>
<rect x="454" y="247.19" width="4.6" height="2.31" fill="#fff" stroke="#555" stroke-width="0.7"/>
<rect x="458.6" y="190.83" width="4.6" height="58.67" fill="#2a2a2a" stroke="#000" stroke-width="0.7"/>
<path d="M460.9 190.83 V189.29 M459.4 189.29 h3" stroke="#000" stroke-width="0.8" fill="none"/>
<rect x="463.2" y="247.19" width="4.6" height="2.31" fill="#000" stroke="#000" stroke-width="0.7"/>
<rect x="467.8" y="247.19" width="4.6" height="2.31" fill="#fafafa" stroke="#555" stroke-width="0.7"/>
<rect x="472.4" y="246.42" width="4.6" height="3.08" fill="#e6e6e6" stroke="#555" stroke-width="0.7"/>
<rect x="477" y="245.65" width="4.6" height="3.85" fill="#777" stroke="#555" stroke-width="0.7"/>
<text transform="translate(467.7,258.4) scale(0.9,1)" class="tx" text-anchor="middle">5</text>
<rect x="488.5" y="247.19" width="4.6" height="2.31" fill="#fff" stroke="#555" stroke-width="0.7"/>
<rect x="493.1" y="201.76" width="4.6" height="47.74" fill="#2a2a2a" stroke="#000" stroke-width="0.7"/>
<path d="M495.4 201.76 V200.99 M493.9 200.99 h3" stroke="#000" stroke-width="0.8" fill="none"/>
<rect x="497.7" y="247.96" width="4.6" height="1.54" fill="#000" stroke="#000" stroke-width="0.7"/>
<rect x="502.3" y="247.19" width="4.6" height="2.31" fill="#fafafa" stroke="#555" stroke-width="0.7"/>
<rect x="506.9" y="246.81" width="4.6" height="2.69" fill="#e6e6e6" stroke="#555" stroke-width="0.7"/>
<rect x="511.5" y="246.42" width="4.6" height="3.08" fill="#777" stroke="#555" stroke-width="0.7"/>
<text transform="translate(500.8,258.4) scale(0.9,1)" class="tx" text-anchor="middle">10</text>
<text transform="translate(411,264) scale(0.97,1)" class="t"><tspan class="mu">μ</tspan>M</text>
<rect x="460.2" y="139.8" width="2.3" height="2.3" fill="#fff" stroke="#000" stroke-width="0.6"/>
<text transform="translate(463.5,143.3) scale(0.97,1)" class="t" style="font-size:8px">V814 IMD-0354</text>
<rect x="460.2" y="147.02" width="2.3" height="2.3" fill="#2a2a2a" stroke="#000" stroke-width="0.6"/>
<text transform="translate(463.5,150.52) scale(0.97,1)" class="t" style="font-size:8px">V814 STI571</text>
<rect x="460.2" y="154.24" width="2.3" height="2.3" fill="#000" stroke="#000" stroke-width="0.6"/>
<text transform="translate(463.5,157.74) scale(0.97,1)" class="t" style="font-size:8px">G559 IMD-0354</text>
<rect x="460.2" y="161.46" width="2.3" height="2.3" fill="#fafafa" stroke="#000" stroke-width="0.6"/>
<text transform="translate(463.5,164.96) scale(0.97,1)" class="t" style="font-size:8px">G559 STI571</text>
<rect x="460.2" y="168.68" width="2.3" height="2.3" fill="#e6e6e6" stroke="#333" stroke-width="0.6"/>
<text transform="translate(463.5,172.18) scale(0.97,1)" class="t" style="font-size:8px">WT IMD-0354</text>
<rect x="460.2" y="175.9" width="2.3" height="2.3" fill="#777" stroke="#333" stroke-width="0.6"/>
<text transform="translate(463.5,179.4) scale(0.97,1)" class="t" style="font-size:8px">WT STI571</text>
</g>
</svg>
</body></html>
